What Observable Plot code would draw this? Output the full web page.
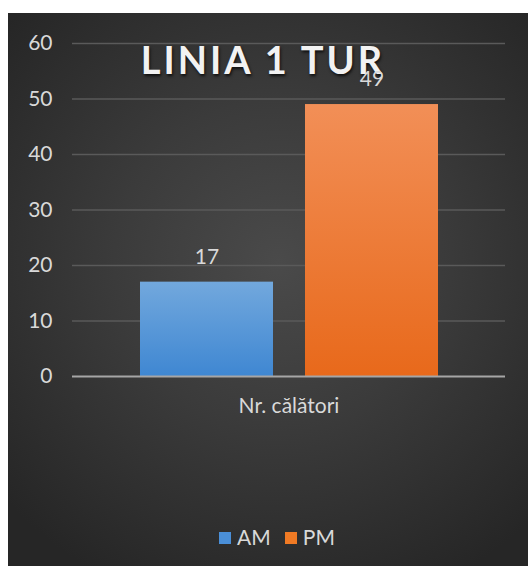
<!DOCTYPE html>
<html>
<head>
<meta charset="utf-8">
<script src="https://cdn.jsdelivr.net/npm/d3@7"></script>
<script src="https://cdn.jsdelivr.net/npm/@observablehq/plot@0.6"></script>
<style>
  html, body { margin: 0; padding: 0; background: #ffffff; }
  #chart {
    position: absolute; left: 8px; top: 13px; width: 520px; height: 553px;
    background: radial-gradient(ellipse 70% 65% at 52% 45%, #4a4a4a 0%, #3b3b3b 45%, #262626 100%);
    overflow: hidden;
    font-family: Lato, "Open Sans", sans-serif;
  }
  #plot { position: absolute; left: 0; top: 0; z-index: 2; }
  #title {
    position: absolute; left: 0; width: 510px; top: 23px; text-align: center; z-index: 1;
    font-family: Lato, "Open Sans", sans-serif; font-weight: bold; font-size: 38px;
    color: #f2f2f2; letter-spacing: 3px;
    text-shadow: 1px 2px 3px rgba(0,0,0,0.75);
  }
  #legend {
    position: absolute; left: 9px; width: 520px; top: 511px; text-align: center;
    font-size: 21px; color: #d9d9d9;
  }
  #legend span.sw { display: inline-block; width: 12px; height: 12px; margin-right: 6px; vertical-align: 1px; }
  #legend span.item { margin: 0 7px; }
</style>
</head>
<body>
<div id="chart">
  <div id="title">LINIA 1 TUR</div>
  <div id="plot"></div>
  <div id="legend"></div>
</div>
<script>
const categories = ["Nr. călători"];
const series = ["AM", "PM"];
const values = [17, 49];
const yTicks = [0, 10, 20, 30, 40, 50, 60];
const seriesColors = ["#4a8fd8", "#f07a24"];

const data = series.map((s, i) => ({cat: categories[0], series: s, value: values[i]}));

const chart = Plot.plot({
  width: 520,
  height: 420,
  marginTop: 30,
  marginBottom: 57,
  marginLeft: 64,
  marginRight: 23,
  style: {background: "transparent", fontFamily: "Lato, 'Open Sans', sans-serif", fontSize: "21px", color: "#d9d9d9"},
  fx: {domain: categories, padding: 0, label: null},
  x: {domain: series, paddingInner: 0.194, paddingOuter: 0.409, axis: null},
  y: {domain: [0, 60], label: null},
  color: {domain: series, range: ["url(#gAM)", "url(#gPM)"]},
  marks: [
    Plot.ruleY(yTicks.filter(d => d > 0), {stroke: "#5a5a5a", strokeWidth: 1.3}),
    Plot.axisY(yTicks, {tickSize: 0, tickPadding: 20, fill: "#d9d9d9", fontSize: 21, label: null}),
    Plot.axisFx({anchor: "bottom", tickSize: 0, tickPadding: 22, fill: "#d9d9d9", fontSize: 21, label: null}),
    Plot.barY(data, {fx: "cat", x: "series", y: "value", fill: "series"}),
    Plot.ruleY([0], {stroke: "#a6a6a6", strokeWidth: 2}),
    Plot.text(data, {fx: "cat", x: "series", y: "value", text: d => String(d.value), dy: -25, fill: "#d9d9d9", fontSize: 21})
  ]
});

const ns = "http://www.w3.org/2000/svg";
const defs = document.createElementNS(ns, "defs");
const grads = [["gAM", "#72a8dd", "#3f87d2"], ["gPM", "#f28f57", "#e8691b"]];
for (const [id, c1, c2] of grads) {
  const g = document.createElementNS(ns, "linearGradient");
  g.setAttribute("id", id);
  g.setAttribute("x1", "0"); g.setAttribute("y1", "0");
  g.setAttribute("x2", "0"); g.setAttribute("y2", "1");
  for (const [off, col] of [["0", c1], ["1", c2]]) {
    const st = document.createElementNS(ns, "stop");
    st.setAttribute("offset", off);
    st.setAttribute("stop-color", col);
    g.appendChild(st);
  }
  defs.appendChild(g);
}
chart.insertBefore(defs, chart.firstChild);
document.getElementById("plot").appendChild(chart);

const legend = document.getElementById("legend");
series.forEach((s, i) => {
  const item = document.createElement("span");
  item.className = "item";
  const sw = document.createElement("span");
  sw.className = "sw";
  sw.style.background = seriesColors[i];
  item.appendChild(sw);
  item.appendChild(document.createTextNode(s));
  legend.appendChild(item);
});
</script>
</body>
</html>
